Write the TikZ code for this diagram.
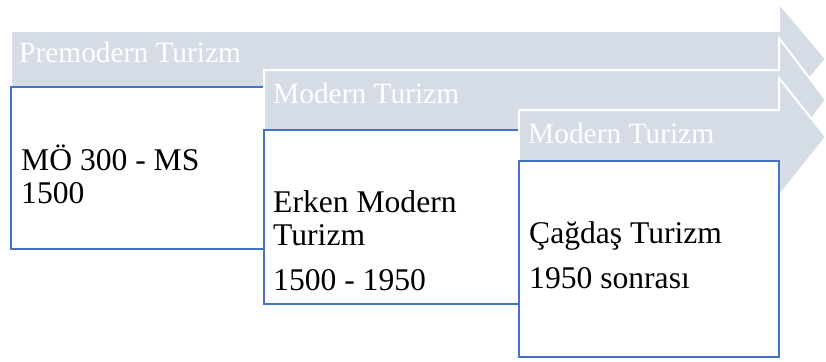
\documentclass[tikz,border=0pt]{standalone}
\usepackage{fontspec}
\setmainfont{Liberation Serif}
\definecolor{bandgray}{HTML}{D6DCE5}
\definecolor{boxblue}{HTML}{4472C4}
\tikzset{
  band/.style={fill=bandgray, draw=white, line width=2pt, line join=miter},
  period/.style={draw=boxblue, fill=white, line width=2pt},
  bandlabel/.style={anchor=base west, inner sep=0pt, text=white, font=\fontsize{29.4}{30}\selectfont},
  bodytext/.style={anchor=base west, inner sep=0pt, font=\fontsize{31.6}{33}\selectfont}
}
\begin{document}
\begin{tikzpicture}[x=1pt, y=-1pt]
        \useasboundingbox (0,0) rectangle (826,361);

        % Premodern
        \draw[band] (11,31) -- (779,31) -- (779,3) -- (826,59) -- (779,115) -- (779,87) -- (11,87) -- cycle;
        \draw[period] (11,87) rectangle (264,249);

        % Erken modern
        \draw[band] (264,70) -- (779,70) -- (779,38) -- (826,100) -- (779,162) -- (779,130) -- (264,130) -- cycle;
        \draw[period] (264,130) rectangle (519,304);

        % Cagdas
        \draw[band] (519,110) -- (779,110) -- (779,78) -- (826,137) -- (779,196) -- (779,164) -- (519,164) -- cycle;
        \draw[period] (519,161) rectangle (779,357);

        \node[bandlabel] (band1) at (19,63) {Premodern Turizm};
        \node[bandlabel] (band2) at (273,103) {Modern Turizm};
        \node[bandlabel] (band3) at (528,143) {Modern Turizm};

        \node[bodytext] (p1-1) at (21,170) {MÖ 300 - MS};
        \node[bodytext] (p1-2) at (21,203) {1500};
        \node[bodytext] (p2-1) at (273,212) {Erken Modern};
        \node[bodytext] (p2-2) at (273,245) {Turizm};
        \node[bodytext] (p2-3) at (273,290) {1500 - 1950};
        \node[bodytext] (p3-1) at (529,243) {Çağdaş Turizm};
        \node[bodytext] (p3-2) at (529,288) {1950 sonrası};
\end{tikzpicture}
\end{document}
